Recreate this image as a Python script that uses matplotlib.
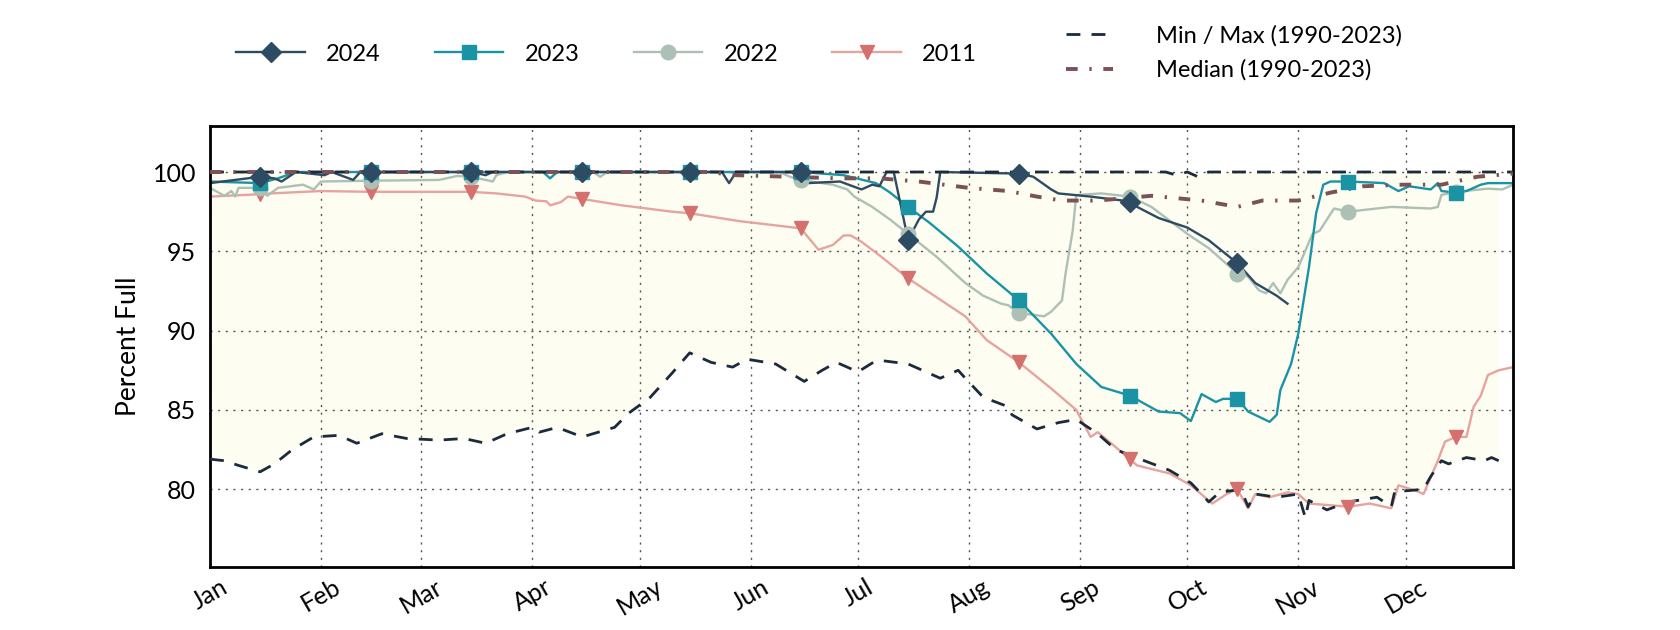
import numpy as np
import matplotlib
matplotlib.use("Agg")
import matplotlib.pyplot as plt
import matplotlib.dates as mdates
from matplotlib.lines import Line2D

plt.rcParams["font.family"] = ["Lato", "DejaVu Sans"]

# ---------------------------------------
# Data (day of year, percent full)
# ---------------------------------------

max_days = [1, 268, 271, 274, 277, 280, 365]
max_vals = [100, 100, 99.8, 100, 99.7, 100, 100]

min_days = [1, 5, 9, 15, 19, 24, 30, 37, 42, 49, 56, 65, 72, 78, 84, 91,
            93, 98, 105, 114, 118, 124, 130, 135, 141, 147, 151, 159, 167,
            172, 176, 182, 187, 189, 196, 205, 210, 212, 217, 224, 225, 232,
            238, 243, 249, 254, 262, 269, 275, 278, 280, 283, 289, 291, 293,
            299, 305, 307, 308, 313, 319, 327, 331, 332, 335, 340, 342, 345,
            347, 352, 357, 359, 361]
min_vals = [81.9, 81.8, 81.5, 81.1, 81.6, 82.5, 83.3, 83.4, 82.9, 83.5, 83.2,
            83.1, 83.2, 82.9, 83.5, 83.9, 83.6, 83.9, 83.3, 83.9, 84.8, 85.8,
            87.3, 88.6, 88.0, 87.7, 88.2, 87.9, 86.8, 87.5, 88.0, 87.4, 88.1,
            88.1, 87.9, 87.0, 87.5, 87.0, 85.8, 85.2, 84.7, 83.8, 84.2, 84.4,
            83.5, 82.5, 81.8, 81.2, 80.4, 79.7, 79.2, 79.8, 80.0, 78.9, 79.7,
            79.5, 79.7, 78.2, 79.3, 78.7, 79.2, 79.5, 78.9, 79.9, 79.9, 80.0,
            80.8, 81.8, 81.6, 82.0, 81.8, 82.0, 81.8]

median_days = [1, 140, 148, 177, 188, 199, 213, 224, 232, 239, 249, 264, 278,
               288, 295, 305, 314, 323, 334, 345, 355, 365]
median_vals = [100, 100, 99.8, 99.6, 99.6, 99.4, 99.0, 98.8, 98.45, 98.2, 98.2,
               98.5, 98.2, 97.8, 98.2, 98.2, 98.7, 99.1, 99.2, 99.2, 99.7, 99.9]

days_2024 = [1, 8, 15, 19, 21, 25, 33, 35, 41, 43, 46, 74, 78, 80, 105, 135,
             144, 146, 148, 166, 168, 177, 183, 186, 188, 190, 192, 195, 196,
             199, 201, 203, 204, 205, 227, 231, 236, 238, 247, 256, 258, 260,
             266, 274, 280, 288, 293, 299, 302]
vals_2024 = [99.3, 99.5, 99.7, 99.6, 99.4, 100, 99.8, 100, 99.5, 100, 100, 100,
             99.8, 100, 100, 100, 100, 99.3, 100, 100, 99.3, 99.4, 98.9, 99.2,
             99.1, 100, 100, 96.8, 95.7, 97.0, 97.5, 97.5, 98.4, 100, 99.9,
             99.7, 98.9, 98.65, 98.45, 98.2, 98.1, 97.8, 97.1, 96.5, 95.7,
             94.25, 93.0, 92.2, 91.7]

days_2023 = [1, 15, 20, 25, 46, 74, 94, 96, 98, 105, 135, 166, 178, 187, 191,
             196, 202, 210, 218, 227, 236, 243, 250, 258, 266, 272, 275, 278,
             282, 284, 288, 291, 297, 299, 300, 303, 305, 308, 310, 312, 314,
             319, 329, 333, 336, 342, 344, 345, 349, 352, 356, 358, 365]
vals_2023 = [99.4, 99.3, 99.6, 100, 100, 100, 100, 99.6, 100, 100, 100, 100,
             99.8, 99.3, 98.7, 97.8, 96.8, 95.3, 93.6, 91.9, 89.8, 87.9, 86.45,
             85.9, 84.9, 84.8, 84.3, 86.0, 85.5, 85.7, 85.7, 84.9, 84.25, 84.7,
             86.25, 87.9, 89.8, 94.0, 97.4, 99.2, 99.4, 99.4, 99.3, 98.8, 99.1,
             98.9, 99.3, 98.8, 98.7, 98.8, 99.2, 99.3, 99.3]

days_2022 = [1, 5, 7, 8, 9, 15, 17, 20, 27, 30, 32, 46, 65, 70, 74, 80, 81, 84,
             105, 108, 110, 112, 135, 160, 163, 166, 175, 179, 181, 186, 191,
             196, 204, 212, 217, 222, 224, 227, 231, 234, 236, 239, 240, 242,
             243, 250, 258, 264, 274, 280, 288, 291, 294, 296, 298, 300, 302,
             305, 309, 311, 315, 319, 331, 342, 344, 345, 349, 358, 362, 365]
vals_2022 = [99.0, 98.5, 98.8, 98.45, 99.0, 99.0, 98.5, 99.0, 99.2, 98.9, 99.4,
             99.45, 99.5, 99.75, 99.7, 99.4, 99.8, 100, 100, 100, 99.7, 100,
             100, 100, 99.7, 99.5, 99.2, 98.9, 98.45, 97.8, 97.0, 96.1, 94.65,
             93.0, 92.2, 91.7, 91.6, 91.1, 91.0, 90.9, 91.2, 91.9, 93.6, 96.3,
             98.55, 98.65, 98.45, 97.8, 96.1, 95.2, 93.6, 93.4, 92.55, 92.35,
             93.0, 92.35, 93.2, 94.0, 96.1, 96.3, 97.7, 97.5, 97.8, 97.7, 97.8,
             98.55, 98.75, 98.95, 98.9, 99.2]

days_2011 = [1, 15, 18, 32, 46, 74, 81, 89, 92, 95, 96, 99, 101, 105, 116, 130,
             135, 149, 166, 171, 175, 178, 180, 183, 188, 196, 204, 212, 218,
             227, 236, 243, 247, 249, 258, 260, 269, 275, 281, 285, 288, 291,
             293, 297, 302, 305, 308, 319, 325, 331, 333, 338, 340, 344, 346,
             349, 352, 354, 356, 358, 361, 365]
vals_2011 = [98.45, 98.6, 98.65, 98.8, 98.75, 98.75, 98.65, 98.45, 98.2, 98.15,
             97.9, 98.1, 98.45, 98.3, 97.9, 97.5, 97.4, 96.9, 96.45, 95.1, 95.4,
             96.0, 96.0, 95.6, 94.75, 93.3, 92.1, 90.9, 89.4, 88.0, 86.35, 85.0,
             83.3, 83.6, 81.9, 81.5, 81.0, 80.25, 79.1, 79.7, 80.0, 78.8, 79.7,
             79.5, 79.8, 79.7, 79.1, 78.9, 79.1, 78.8, 80.25, 79.9, 79.7, 81.8,
             83.0, 83.3, 83.3, 85.2, 85.9, 87.2, 87.5, 87.7]

# markers sit on the 15th of each month
marker_days = [15, 46, 74, 105, 135, 166, 196, 227, 258, 288, 319, 349]


def to_dates(days):
    return np.datetime64("2023-01-01") + (np.array(days) - 1).astype("timedelta64[D]")


# label, days, values, line colour, marker, marker colour, marker size
years = [
    ("2011", days_2011, vals_2011, "#e7a49e", "v", "#d4706e", 10.5),
    ("2022", days_2022, vals_2022, "#adc0b5", "o", "#adc0b5", 10.5),
    ("2023", days_2023, vals_2023, "#1a93a5", "s", "#1a93a5", 10),
    ("2024", days_2024, vals_2024, "#2d4b62", "D", "#2d4b62", 10.5),
]

# ---------------------------------------
# Plot
# ---------------------------------------

fig = plt.figure(figsize=(16.8, 6.3), dpi=100)
ax = fig.add_axes([0.125, 0.1, 0.7756, 0.7])

# envelope between min and max
upper = np.interp(min_days, max_days, max_vals)
ax.fill_between(to_dates(min_days), min_vals, upper,
                color="#fdfdf1", linewidth=0, zorder=0.3)

handles = {}
for i, (label, d, v, lc, m, mc, ms) in enumerate(years):
    dates = to_dates(d)
    ax.plot(dates, v, color=lc, linewidth=1.7, zorder=2 + i * 0.1)
    idx = [k for k, day in enumerate(d) if day in marker_days]
    ax.plot(dates[idx], np.array(v)[idx], linestyle="none", marker=m,
            markersize=ms, markerfacecolor=mc, markeredgecolor=mc,
            zorder=4 + i * 0.1)
    handles[label] = Line2D([], [], color=lc, linewidth=1.7, marker=m,
                            markersize=ms, markerfacecolor=mc,
                            markeredgecolor=mc)

ax.plot(to_dates(max_days), max_vals, color="#1b2b3c", linewidth=2.0,
        linestyle=(0, (5, 4)), zorder=3)
ax.plot(to_dates(min_days), min_vals, color="#1b2b3c", linewidth=2.0,
        linestyle=(0, (5, 4)), zorder=3)
ax.plot(to_dates(median_days), median_vals, color="#7a5157", linewidth=2.8,
        linestyle=(0, (3, 3, 0.6, 3)), zorder=3.1)

# axes
ax.set_xlim(to_dates([1])[0], to_dates([365])[0])
ax.set_ylim(75.1, 102.9)
ax.set_yticks([80, 85, 90, 95, 100])
ax.xaxis.set_major_locator(mdates.MonthLocator())
ax.xaxis.set_major_formatter(mdates.DateFormatter("%b"))

ax.grid(True, linestyle=(0, (1.5, 4)), color="#555555", linewidth=1.0)
ax.set_axisbelow(True)

ax.tick_params(length=0, labelsize=18)
ax.tick_params(axis="y", pad=10)
ax.tick_params(axis="x", pad=6, labelrotation=30)

for s in ax.spines.values():
    s.set_linewidth(2.0)
    s.set_color("black")

ax.set_ylabel("Percent Full", fontsize=19, labelpad=8)

# legends
order = ["2024", "2023", "2022", "2011"]
fig.legend([handles[k] for k in order], order, ncol=4, loc="center left",
           bbox_to_anchor=(0.128, 0.914), frameon=False, fontsize=17,
           handlelength=2.9, handletextpad=0.9, columnspacing=2.3)

stat_handles = [
    Line2D([], [], color="#1b2b3c", linewidth=2.0, linestyle=(0, (5, 4))),
    Line2D([], [], color="#7a5157", linewidth=2.8, linestyle=(0, (3, 3, 0.6, 3))),
]
fig.legend(stat_handles, ["Min / Max (1990-2023)", "Median (1990-2023)"],
           loc="center left", bbox_to_anchor=(0.622, 0.916), frameon=False,
           fontsize=17, handlelength=2.0, handletextpad=1.8, labelspacing=0.55)

plt.savefig("out.png", dpi=100)
